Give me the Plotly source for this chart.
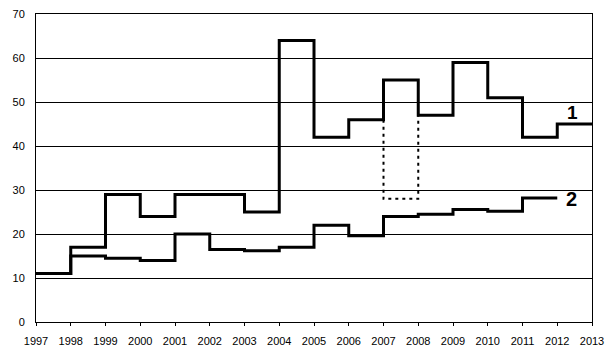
import plotly.graph_objects as go

years = list(range(1997, 2014))
# values per yearly interval (start year -> next year)
series1 = [11, 17, 29, 24, 29, 29, 25, 64, 42, 46, 55, 47, 59, 51, 42, 45]
series2 = [11, 15, 14.5, 14, 20, 16.5, 16.2, 17, 22, 19.6, 24, 24.5, 25.6, 25.2, 28.2]
bracket_x = [2007, 2007, 2008, 2008]
bracket_y = [46, 28, 28, 47]
y_ticks = [0, 10, 20, 30, 40, 50, 60, 70]

fig = go.Figure()
fig.add_trace(go.Scatter(
    x=bracket_x, y=bracket_y, mode="lines",
    line=dict(color="black", width=2, dash="3px,4px"), hoverinfo="skip"))
fig.add_trace(go.Scatter(
    x=years[:len(series1) + 1], y=series1 + [series1[-1]], mode="lines",
    line=dict(color="black", width=3, shape="hv")))
fig.add_trace(go.Scatter(
    x=years[:len(series2) + 1], y=series2 + [series2[-1]], mode="lines",
    line=dict(color="black", width=3, shape="hv")))

fig.add_annotation(x=2012.45, y=47.6, text="<b>1</b>", showarrow=False,
                   font=dict(family="Liberation Sans", size=19, color="black"))
fig.add_annotation(x=2012.4, y=27.9, text="<b>2</b>", showarrow=False,
                   font=dict(family="Liberation Sans", size=20, color="black"))

# page body adds 8px offset; compensate with figure size and margins
fig.update_layout(
    width=607, height=351,
    margin=dict(l=28, r=23, t=6, b=37, autoexpand=False),
    paper_bgcolor="white", plot_bgcolor="white",
    showlegend=False,
    font=dict(family="Liberation Sans", size=11, color="black"),
)
fig.update_xaxes(
    range=[1997, 2013], tickvals=years, ticktext=[str(y) for y in years],
    showgrid=False, zeroline=False, showline=True, linecolor="black", linewidth=1,
    mirror=True, ticks="outside", ticklen=3, tickcolor="black", ticklabelstandoff=6,
    automargin=False, ticklabeloverflow="allow")
fig.update_yaxes(
    range=[0, 70.02], tickvals=y_ticks, showgrid=True, gridcolor="black", gridwidth=1,
    zeroline=False, showline=True, linecolor="black", linewidth=1, mirror=True,
    ticks="", ticklabelstandoff=8, automargin=False, ticklabeloverflow="allow")

fig.write_html("out.html")
